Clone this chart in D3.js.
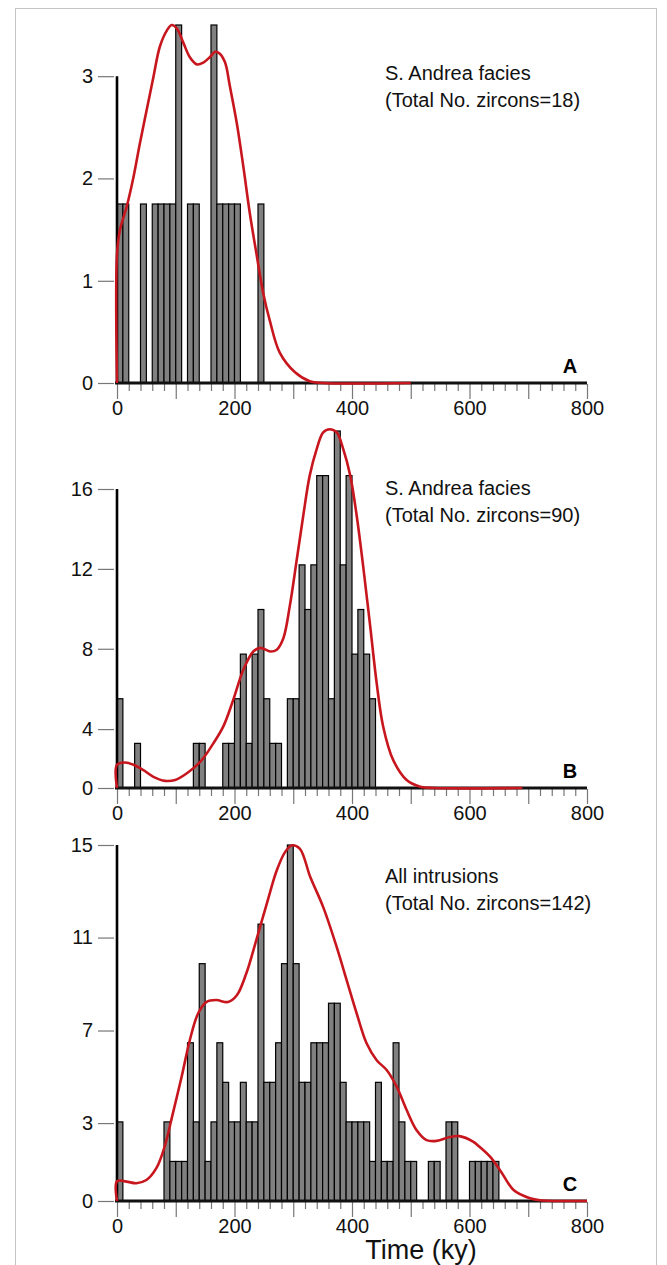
<!DOCTYPE html>
<html><head><meta charset="utf-8">
<script src="https://cdn.jsdelivr.net/npm/d3@7"></script>
<style>
body{margin:0;background:#fff}
svg{display:block;font-family:"Liberation Sans",Arial,sans-serif}
</style>
</head><body>
<svg id="chart" width="667" height="1265"></svg>
<script>
// ---------- DATA ----------
const binWidth = 10;               // ky per histogram bin
const xMinorStep = 20;
const xLabelValues = [0, 200, 400, 600, 800];

// Panel A — S. Andrea facies, 18 zircons
const binsA   = [0,10,40,60,70,80,90,100,120,130,160,170,180,190,200,240];
const countsA = [1,1,1,1,1,1,1,2,1,1,2,1,1,1,1,1];
const curveAx = [0,0,5,16.5,28,39,50.5,62,73,85,93,102,113,124,136,147,158,167,175,184,192,204,215,226,238,249,260,277,303,328,350,500];
const curveAy = [0,0.72,0.855,0.985,1.15,1.34,1.525,1.71,1.88,1.97,2.0,1.98,1.9,1.82,1.78,1.79,1.82,1.85,1.84,1.79,1.66,1.45,1.21,0.95,0.71,0.5,0.35,0.17,0.06,0.01,0,0];
const yTickLabelsA = ["0","1","2","3"];
const yTickPosA    = [0, 0.571, 1.143, 1.714];   // tick heights, in zircon-count units
const titleA = ["S. Andrea facies", "(Total No. zircons=18)"];

// Panel B — S. Andrea facies, 90 zircons
const binsB   = [0,30,130,140,180,190,200,210,220,230,240,250,260,270,290,300,310,320,330,340,350,360,370,380,390,400,410,420,430];
const countsB = [2,1,1,1,1,1,2,3,1,3,4,2,1,1,2,2,5,4,5,7,7,2,8,5,7,3,4,3,2];
const curveBx = [0,0,14,28,45,62,82,99,119,142,164,181,198,215,232,244,261,272,283,294,306,317,328,340,351,362,374,385,397,408,419,431,442,453,470,493,516,540,690];
const curveBy = [0,0.52,0.57,0.52,0.4,0.25,0.16,0.18,0.33,0.59,1.0,1.38,1.98,2.65,3.06,3.14,3.06,3.1,3.35,4.07,5.12,6.1,7.0,7.6,7.97,8.04,7.97,7.6,7.0,6.1,4.97,3.62,2.35,1.38,0.63,0.18,0.03,0,0];
const yTickLabelsB = ["0","4","8","12","16"];
const yTickPosB    = [0, 1.32, 3.12, 4.91, 6.70];
const titleB = ["S. Andrea facies", "(Total No. zircons=90)"];

// Panel C — All intrusions, 142 zircons
const binsC   = [0,80,90,100,110,120,130,140,150,160,170,180,190,200,210,220,230,240,250,260,270,280,290,300,310,320,330,340,350,360,370,380,390,400,410,420,430,440,450,460,470,480,490,500,530,540,560,570,600,610,620,630,640];
const countsC = [2,2,1,1,1,4,2,6,1,2,4,3,2,2,3,2,2,7,3,3,4,6,9,6,3,3,4,4,4,5,5,3,2,2,2,2,1,3,1,1,4,2,1,1,1,1,2,2,1,1,1,1,1];
const curveCx = [0,0,16,33,50,67,81,95,110,124,138,152,169,189,204,220,237,255,272,286,297,311,329,351,374,391,408,425,442,459,476,493,510,527,544,567,583,606,617,635,652,675,703,720,800];
const curveCy = [0,0.5,0.49,0.45,0.53,0.83,1.37,2.21,3.14,4.07,4.74,5.03,5.08,5.03,5.2,5.75,6.59,7.52,8.36,8.82,8.99,8.91,8.19,7.43,6.42,5.58,4.74,3.98,3.56,3.31,2.89,2.3,1.79,1.54,1.52,1.62,1.64,1.5,1.37,1.12,0.78,0.28,0.07,0.02,0];
const yTickLabelsC = ["0","3","7","11","15"];
const yTickPosC    = [0, 1.97, 4.31, 6.66, 9.0];
const titleC = ["All intrusions", "(Total No. zircons=142)"];

const xAxisTitle = "Time (ky)";

// ---------- LAYOUT ----------
const X0 = 117, X1 = 587;
const panels = [
  {bins: binsA, counts: countsA, cx: curveAx, cy: curveAy, tl: yTickLabelsA, tp: yTickPosA, title: titleA, letter: "A",
   base: 383, maxC: 2, topPx: 25, t1: 80, t2: 107},
  {bins: binsB, counts: countsB, cx: curveBx, cy: curveBy, tl: yTickLabelsB, tp: yTickPosB, title: titleB, letter: "B",
   base: 788, maxC: 8, topPx: 431, t1: 495, t2: 522},
  {bins: binsC, counts: countsC, cx: curveCx, cy: curveCy, tl: yTickLabelsC, tp: yTickPosC, title: titleC, letter: "C",
   base: 1201, maxC: 9, topPx: 845, t1: 883, t2: 910}
];

const svg = d3.select("#chart");
svg.append("rect").attr("x", 15.5).attr("y", 8.5).attr("width", 641).attr("height", 1300)
  .attr("fill", "none").attr("stroke", "#c4c4c4").attr("stroke-width", 1);

const x = d3.scaleLinear().domain([0, 800]).range([X0, X1]);

panels.forEach(p => {
  const y = d3.scaleLinear().domain([0, p.maxC]).range([p.base, p.topPx]);
  const g = svg.append("g");

  // bars
  g.selectAll("rect.bar").data(p.bins.map((b, i) => ({b, c: p.counts[i]})))
    .join("rect").attr("class", "bar")
    .attr("x", d => x(d.b)).attr("width", d => x(d.b + binWidth) - x(d.b))
    .attr("y", d => y(d.c)).attr("height", d => y(0) - y(d.c))
    .attr("fill", "#808080").attr("stroke", "#000").attr("stroke-width", 1.2);

  // x axis
  const xa = g.append("g").attr("transform", `translate(0,${p.base + 1})`)
    .call(d3.axisBottom(x).tickValues(d3.range(0, 801, xMinorStep)).tickSize(7)
      .tickFormat(d => xLabelValues.includes(d) ? d : ""));
  xa.select(".domain").remove();
  xa.selectAll(".tick line").attr("stroke", "#777").attr("stroke-width", 1.2)
    .attr("y2", d => d % 100 === 0 ? 15 : 7);
  xa.selectAll(".tick text").attr("y", 17).attr("font-size", 20).attr("fill", "#111")
    .attr("font-family", "Liberation Sans, Arial, sans-serif");

  // axis baseline
  g.append("line").attr("x1", x(0) - 2).attr("x2", x(800)).attr("y1", p.base).attr("y2", p.base)
    .attr("stroke", "#111").attr("stroke-width", 3);

  // y axis
  const ya = g.append("g").attr("transform", `translate(${X0 - 3},0)`)
    .call(d3.axisLeft(y).tickValues(p.tp).tickSize(16).tickPadding(5)
      .tickFormat((d, i) => p.tl[i]));
  ya.select(".domain").remove();
  ya.selectAll(".tick line").attr("stroke", "#777").attr("stroke-width", 1.2);
  ya.selectAll(".tick text").attr("font-size", 20).attr("fill", "#111")
    .attr("font-family", "Liberation Sans, Arial, sans-serif");
  g.append("line").attr("x1", X0).attr("x2", X0).attr("y1", y(0)).attr("y2", y(p.tp[p.tp.length - 1]))
    .attr("stroke", "#000").attr("stroke-width", 2.6);

  // density curve
  const line = d3.line().x(d => x(d[0])).y(d => y(d[1])).curve(d3.curveCatmullRom.alpha(0.5));
  g.append("path").datum(p.cx.map((v, i) => [v, p.cy[i]]))
    .attr("d", line).attr("fill", "none").attr("stroke", "#c8161e").attr("stroke-width", 2.6)
    .attr("stroke-linejoin", "round");

  // titles
  g.append("text").attr("x", 385).attr("y", p.t1).attr("font-size", 20).attr("fill", "#111").text(p.title[0]);
  g.append("text").attr("x", 385).attr("y", p.t2).attr("font-size", 20).attr("fill", "#111").text(p.title[1]);

  g.append("text").attr("x", 570).attr("y", p.base - 10).attr("text-anchor", "middle")
    .attr("font-size", 20).attr("font-weight", "bold").attr("fill", "#000").text(p.letter);
});

svg.append("text").attr("x", 421).attr("y", 1259).attr("text-anchor", "middle")
  .attr("font-size", 27).attr("fill", "#111").text(xAxisTitle);
</script>
</body></html>
